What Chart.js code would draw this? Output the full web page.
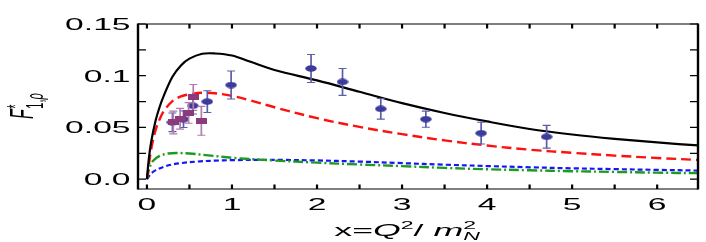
<!DOCTYPE html>
<html>
<head>
<meta charset="utf-8">
<script src="https://cdn.jsdelivr.net/npm/chart.js@4/dist/chart.umd.min.js"></script>
<style>
html,body{margin:0;padding:0;background:#fff;}
canvas{display:block;}
</style>
</head>
<body>
<canvas id="c" width="706" height="242"></canvas>
<script>
// ---- data ----
const curveX = [0, 0.02, 0.05, 0.1, 0.15, 0.2, 0.3, 0.4, 0.5, 0.65, 0.8, 1.0, 1.2, 1.5, 2.0, 2.5, 3.0, 3.5, 4.0, 4.5, 5.0, 5.5, 6.0, 6.5];
const blackY = [0, 0.018, 0.036, 0.056, 0.070, 0.081, 0.099, 0.110, 0.1165, 0.1212, 0.1215, 0.1195, 0.114, 0.1055, 0.0955, 0.0845, 0.0735, 0.064, 0.0558, 0.0485, 0.0432, 0.039, 0.0355, 0.0325];
const redY   = [0, 0.012, 0.029, 0.047, 0.058, 0.066, 0.0755, 0.080, 0.082, 0.0835, 0.083, 0.0805, 0.0765, 0.0695, 0.059, 0.0505, 0.0435, 0.0375, 0.0325, 0.0285, 0.0255, 0.0228, 0.0205, 0.0185];
const greenX = [0, 0.03, 0.07, 0.15, 0.25, 0.35, 0.5, 0.75, 1.0, 1.5, 2.0, 2.5, 3.0, 3.5, 4.0, 4.5, 5.0, 5.5, 6.0, 6.5];
const greenY = [0, 0.011, 0.0175, 0.0225, 0.0248, 0.0253, 0.0248, 0.0228, 0.0207, 0.018, 0.016, 0.0142, 0.0126, 0.0109, 0.0096, 0.0086, 0.0077, 0.007, 0.0063, 0.0058];
const blueX  = [0, 0.05, 0.1, 0.2, 0.3, 0.4, 0.6, 0.8, 1.0, 1.3, 1.6, 2.0, 2.5, 3.0, 3.5, 4.0, 4.5, 5.0, 5.5, 6.0, 6.5];
const blueY  = [0, 0.0055, 0.0085, 0.012, 0.0142, 0.0155, 0.0171, 0.0179, 0.0184, 0.0187, 0.0186, 0.0181, 0.017, 0.0155, 0.014, 0.0127, 0.0115, 0.0105, 0.0097, 0.009, 0.0083];

const dataBlueX   = [0.30, 0.43, 0.54, 0.71, 0.99, 1.93, 2.30, 2.75, 3.28, 3.93, 4.70];
const dataBlueY   = [0.055, 0.058, 0.071, 0.075, 0.091, 0.107, 0.094, 0.068, 0.058, 0.0445, 0.041];
const dataBlueErr = [0.009, 0.008, 0.008, 0.0105, 0.0135, 0.0135, 0.013, 0.010, 0.0078, 0.0105, 0.011];

const dataPurpX   = [0.31, 0.39, 0.49, 0.545, 0.64];
const dataPurpY   = [0.0548, 0.0584, 0.064, 0.079, 0.0564];
const dataPurpErr = [0.011, 0.010, 0.010, 0.0125, 0.014];

const xTickValues = [0, 1, 2, 3, 4, 5, 6];
const xTickLabels = ['0', '1', '2', '3', '4', '5', '6'];
const xMinorValues = [0.5, 1.5, 2.5, 3.5, 4.5, 5.5];
const yTickValues = [0, 0.05, 0.1, 0.15];
const yTickLabels = ['0.0', '0.05', '0.1', '0.15'];
const yMinorValues = [0.025, 0.075, 0.125];

// ---- helpers ----
const SX = 2.1; // horizontal stretch of the reference's lettering
const pts = (xs, ys) => xs.map((x, i) => ({x: x, y: ys[i]}));

function makeEllipse(w, h, color) {
  const c = document.createElement('canvas');
  c.width = w; c.height = h;
  const g = c.getContext('2d');
  g.fillStyle = color;
  g.beginPath();
  g.ellipse(w / 2, h / 2, w / 2 - 0.3, h / 2 - 0.3, 0, 0, Math.PI * 2);
  g.fill();
  return c;
}
function makeRect(w, h, color) {
  const c = document.createElement('canvas');
  c.width = w; c.height = h;
  const g = c.getContext('2d');
  g.fillStyle = color;
  g.fillRect(0, 0, w, h);
  return c;
}
const blueMarker = makeEllipse(12, 7, '#3b3b9c');
const purpMarker = makeRect(11, 6, '#8b3b7c');

function sText(ctx, str, x, y, font, align) {
  ctx.save();
  ctx.font = font;
  const w = ctx.measureText(str).width * SX;
  let x0 = x;
  if (align === 'center') x0 = x - w / 2;
  else if (align === 'right') x0 = x - w;
  ctx.translate(x0, y);
  ctx.scale(SX, 1);
  ctx.textAlign = 'left';
  ctx.textBaseline = 'alphabetic';
  ctx.fillText(str, 0, 0);
  ctx.restore();
  return w;
}

const framePlugin = {
  id: 'frame',
  beforeDatasetDraw(chart, args) {
    const ds = chart.data.datasets[args.index];
    if (!ds.errors) return;
    const {ctx, scales: {x, y}} = chart;
    ctx.save();
    ctx.strokeStyle = ds.errColor;
    ds.data.forEach((p, i) => {
      const px = x.getPixelForValue(p.x);
      const top = y.getPixelForValue(p.y + ds.errors[i]);
      const bot = y.getPixelForValue(p.y - ds.errors[i]);
      ctx.lineWidth = 1.7;
      ctx.beginPath(); ctx.moveTo(px, top); ctx.lineTo(px, bot); ctx.stroke();
      ctx.lineWidth = 1.1;
      ctx.beginPath();
      ctx.moveTo(px - 4, top); ctx.lineTo(px + 4, top);
      ctx.moveTo(px - 4, bot); ctx.lineTo(px + 4, bot);
      ctx.stroke();
    });
    ctx.restore();
  },
  afterDraw(chart) {
    const {ctx, chartArea: a, scales: {x, y}} = chart;
    ctx.save();
    ctx.strokeStyle = '#000';
    ctx.lineWidth = 2.4;
    ctx.beginPath();
    ctx.moveTo(a.left, a.top - 0.6); ctx.lineTo(a.left, a.bottom + 0.6);
    ctx.moveTo(a.right, a.top - 0.6); ctx.lineTo(a.right, a.bottom + 0.6);
    ctx.stroke();
    ctx.lineWidth = 1.2;
    ctx.beginPath();
    ctx.moveTo(a.left, a.top); ctx.lineTo(a.right, a.top);
    ctx.moveTo(a.left, a.bottom); ctx.lineTo(a.right, a.bottom);
    ctx.stroke();
    ctx.lineWidth = 2.2;
    ctx.beginPath();
    xTickValues.concat(xMinorValues).forEach(v => {
      const px = x.getPixelForValue(v);
      ctx.moveTo(px, a.bottom); ctx.lineTo(px, a.bottom - 4.5);
      ctx.moveTo(px, a.top); ctx.lineTo(px, a.top + 4.5);
    });
    ctx.stroke();
    ctx.lineWidth = 1.2;
    ctx.beginPath();
    yTickValues.concat(yMinorValues).forEach(v => {
      const py = y.getPixelForValue(v);
      ctx.moveTo(a.left, py); ctx.lineTo(a.left + 8, py);
      ctx.moveTo(a.right, py); ctx.lineTo(a.right - 8, py);
    });
    ctx.stroke();
    ctx.fillStyle = '#000';
    const tf = '16px "Liberation Sans", Arial, sans-serif';
    xTickValues.forEach((v, i) => {
      sText(ctx, xTickLabels[i], x.getPixelForValue(v), 209.5, tf, 'center');
    });
    yTickValues.forEach((v, i) => {
      sText(ctx, yTickLabels[i], 130.5, y.getPixelForValue(v) + 5.8, tf, 'right');
    });
    const fMain = '17px "Liberation Sans", Arial, sans-serif';
    const fMainI = 'italic 17px "Liberation Sans", Arial, sans-serif';
    const fSmall = '11px "Liberation Sans", Arial, sans-serif';
    const fSmallI = 'italic 11px "Liberation Sans", Arial, sans-serif';
    const parts = [
      {t: 'x=', f: fMain, dy: 0},
      {t: 'Q', f: fMainI, dy: 0},
      {t: '2', f: fSmall, dy: -7},
      {t: '/ ', f: fMain, dy: 0},
      {t: 'm', f: fMainI, dy: 0},
      {t: '2', f: fSmall, dy: -7, stack: true},
      {t: 'N', f: fSmallI, dy: 4}
    ];
    let total = 0;
    const widths = parts.map(p => { ctx.font = p.f; return ctx.measureText(p.t).width * SX; });
    parts.forEach((p, i) => { if (!p.stack) total += widths[i]; });
    total = total - widths[5] + Math.max(widths[5], widths[6]);
    let cx = 409 - total / 2;
    const base = 236;
    parts.forEach((p, i) => {
      sText(ctx, p.t, cx, base + p.dy, p.f, 'left');
      if (!p.stack) cx += widths[i];
    });
    ctx.save();
    ctx.translate(33, 119);
    ctx.scale(SX, 1);
    ctx.rotate(-Math.PI / 2);
    ctx.textBaseline = 'alphabetic';
    ctx.textAlign = 'left';
    ctx.font = 'italic 16px "Liberation Sans", Arial, sans-serif';
    ctx.fillText('F', 0, 0);
    const fw = ctx.measureText('F').width + 0.5;
    ctx.font = '11px "Liberation Sans", Arial, sans-serif';
    ctx.fillText('*', fw, -4.5);
    ctx.fillText('1,', fw, 4.6);
    const w1 = ctx.measureText('1,').width;
    ctx.font = 'italic 11px "Liberation Sans", Arial, sans-serif';
    ctx.fillText('ρ', fw + w1, 4.6);
    ctx.restore();
    ctx.restore();
  }
};

const lineDs = (data, color, width, dash) => ({
  data: data,
  showLine: true,
  borderColor: color,
  borderWidth: width,
  borderDash: dash,
  pointRadius: 0,
  pointHoverRadius: 0,
  tension: 0.35,
  fill: false
});

new Chart(document.getElementById('c'), {
  type: 'scatter',
  data: {
    datasets: [
      {
        data: pts(dataPurpX, dataPurpY),
        pointStyle: purpMarker, pointRadius: 5, showLine: false,
        errors: dataPurpErr, errColor: '#b27bab'
      },
      {
        data: pts(dataBlueX, dataBlueY),
        pointStyle: blueMarker, pointRadius: 5, showLine: false,
        errors: dataBlueErr, errColor: '#5c5cae'
      },
      lineDs(pts(curveX, blackY), '#000000', 2.2, []),
      lineDs(pts(curveX, redY), '#ff1010', 2.4, [10, 5]),
      lineDs(pts(greenX, greenY), '#1c9c1c', 2.4, [10, 3, 2, 3]),
      lineDs(pts(blueX, blueY), '#1414ff', 2.2, [5, 3])
    ]
  },
  options: {
    responsive: false,
    devicePixelRatio: 1,
    animation: false,
    events: [],
    layout: {padding: {top: 24, right: 8, left: 0, bottom: 0}},
    plugins: {legend: {display: false}, tooltip: {enabled: false}},
    scales: {
      x: {
        type: 'linear', min: -0.105, max: 6.48,
        grid: {display: false}, border: {display: false},
        ticks: {display: false},
        afterFit(s) { s.height = 53; }
      },
      y: {
        type: 'linear', min: -0.0095, max: 0.15,
        grid: {display: false}, border: {display: false},
        ticks: {display: false},
        afterFit(s) { s.width = 138; }
      }
    }
  },
  plugins: [framePlugin]
});
</script>
</body>
</html>
